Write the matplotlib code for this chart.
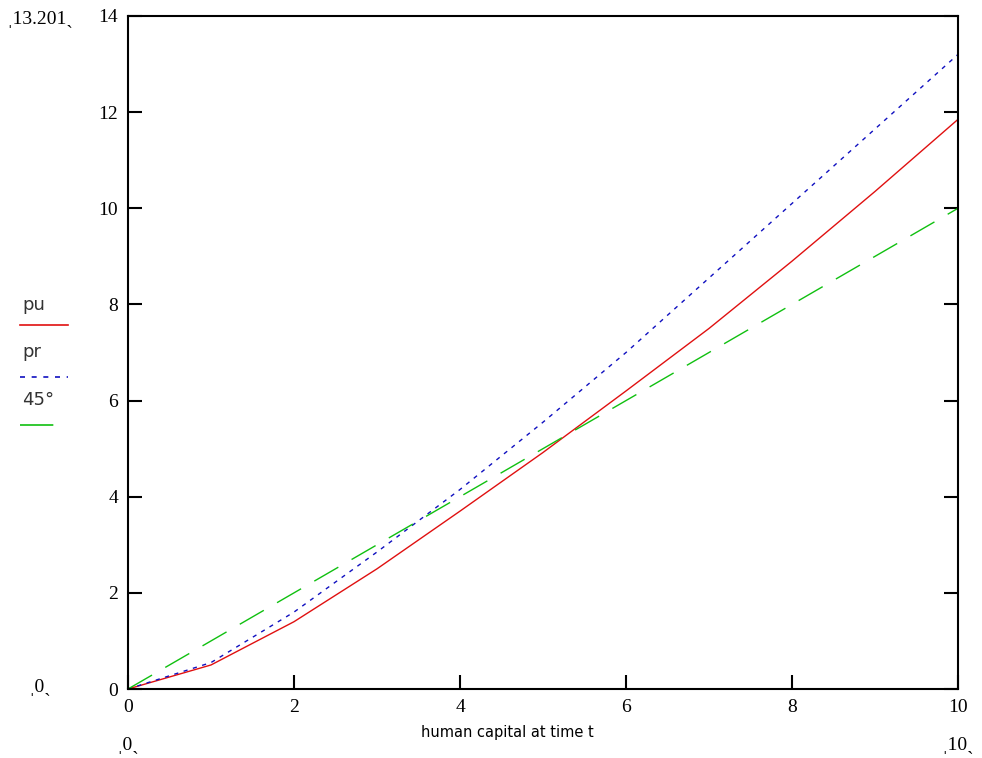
import matplotlib.pyplot as plt
from matplotlib.lines import Line2D

# values
x_vals = [0, 1, 2, 3, 4, 5, 6, 7, 8, 9, 10]
pu_vals = [0, 0.5, 1.4, 2.5, 3.7, 4.92, 6.2, 7.5, 8.9, 10.35, 11.85]
pr_vals = [0, 0.55, 1.6, 2.85, 4.15, 5.55, 7.0, 8.55, 10.1, 11.65, 13.201]
deg45_vals = [0, 1, 2, 3, 4, 5, 6, 7, 8, 9, 10]

x_ticks = [0, 2, 4, 6, 8, 10]
y_ticks = [0, 2, 4, 6, 8, 10, 12, 14]

red = "#e01010"
blue = "#1010c0"
green = "#10c010"

fig = plt.figure(figsize=(9.82, 7.58), dpi=100)
ax = fig.add_axes([128 / 982, 1 - 689 / 758, 830 / 982, 673 / 758])

ax.plot(x_vals, pu_vals, color=red, lw=1.0)
ax.plot(x_vals, pr_vals, color=blue, lw=1.0, dashes=(3, 4))
ax.plot(x_vals, deg45_vals, color=green, lw=1.0, dashes=(20, 11))

ax.set_xlim(0, 10)
ax.set_ylim(0, 14)
ax.set_xticks(x_ticks)
ax.set_yticks(y_ticks)
ax.tick_params(direction="in", length=10, width=1.5, right=True, top=False,
               labelsize=14, pad=7)
for lab in ax.get_xticklabels() + ax.get_yticklabels():
    lab.set_family("Liberation Serif")
for s in ax.spines.values():
    s.set_linewidth(1.5)

fig.text(507 / 982, 1 - 733 / 758, "human capital at time t", ha="center",
         va="center", fontsize=10.5, family="DejaVu Sans")

# legend on the left, outside the axes
leg = [("pu", red, None, 305, 325), ("pr", blue, (3, 4), 352, 377),
       ("45\u00b0", green, (20, 11), 400, 425)]
for name, col, dsh, ty, ly in leg:
    fig.text(22 / 982, 1 - ty / 758, name, fontsize=13, va="center",
             family="DejaVu Sans", color="#333333")
    ln = Line2D([20 / 982, 68 / 982], [1 - ly / 758, 1 - ly / 758],
                color=col, lw=1.2, transform=fig.transFigure)
    if dsh:
        ln.set_dashes(dsh)
    fig.add_artist(ln)

# Mathcad limit labels
lims = [(40, 20, "13.201"), (40, 688, "0"), (128, 745, "0"), (958, 745, "10")]
for px, py, t in lims:
    fig.text(px / 982, 1 - py / 758, "\u02cc" + t + "\u02cf", fontsize=14,
             ha="center", va="center", family="Liberation Serif")

fig.savefig("out.png", dpi=100)
